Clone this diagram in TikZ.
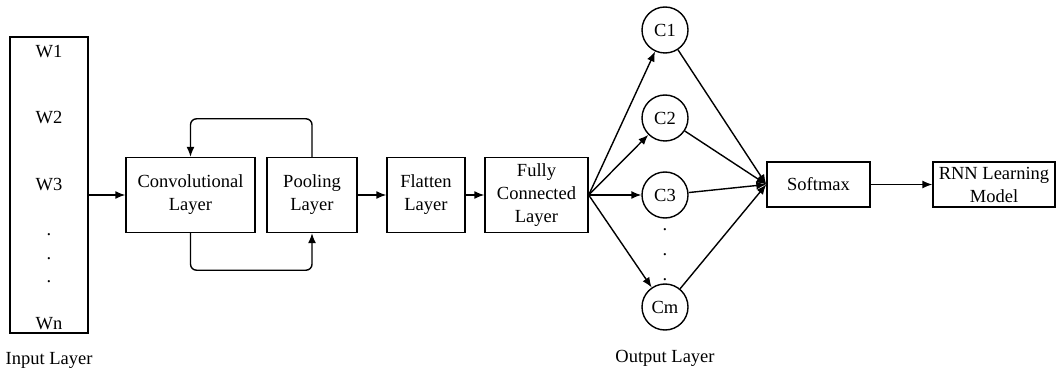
\documentclass[tikz,border=0pt]{standalone}
\usepackage{fontspec}
\setmainfont{Liberation Serif}
\usetikzlibrary{arrows.meta}

\begin{document}
\begin{tikzpicture}[
        x=1pt, y=-1pt,
        font=\fontsize{18.5}{23}\selectfont,
        line width=1.4pt,
        >={Latex[length=10pt,width=8pt]},
        layer/.style={
            draw,
            align=center,
            inner sep=0pt,
            minimum height=75pt
        },
        unit/.style={
            draw,
            circle,
            inner sep=0pt,
            minimum size=46pt
        },
        dot/.style={
            anchor=base,
            inner sep=0pt
        }
    ]
        \useasboundingbox (0,0) rectangle (1057,374);

        % Input column
        \node[draw, minimum width=78pt, minimum height=296pt] (in) at (49,185) {};
        \node (w1) at (49,52) {W1};
        \node (w2) at (49,118) {W2};
        \node (w3) at (49,185) {W3};
        \node[dot] (d1) at (49,236) {.};
        \node[dot] (d2) at (49,259) {.};
        \node[dot] (d3) at (49,282) {.};
        \node (wn) at (49,324) {Wn};
        \node (inlab) at (49,360) {Input Layer};

        % Convolution and pooling
        \node[layer, minimum width=129pt] (conv) at (190.5,195) {Convolutional\\Layer};
        \node[layer, minimum width=90pt] (pool) at (312,195) {Pooling\\Layer};

        % Flatten and dense
        \node[layer, minimum width=78pt] (flat) at (426,195) {Flatten\\Layer};
        \node[layer, minimum width=103pt] (fc) at (536.5,195) {Fully\\Connected\\Layer};

        % Output units
        \node[unit] (c1) at (665,30) {C1};
        \node[unit] (c2) at (665,118) {C2};
        \node[unit] (c3) at (665,195) {C3};
        \node[dot] (e1) at (665,230) {.};
        \node[dot] (e2) at (665,255) {.};
        \node[dot] (e3) at (665,280) {.};
        \node[unit] (cm) at (665,307) {Cm};
        \node (outlab) at (665,358) {Output Layer};

        % Softmax and RNN
        \node[draw, minimum width=103pt, minimum height=45pt] (sm) at (818.5,184.5) {Softmax};
        \node[draw, align=center, inner sep=0pt, minimum width=122pt, minimum height=45pt] (rnn) at (994,184.5) {RNN Learning\\Model};

        % Connectors
        \draw[->] (in.east |- conv.west) -- (conv.west);
        \draw[->, rounded corners=6pt] (pool.north) -- ++(0,-38) -| (conv.north);
        \draw[->, rounded corners=6pt] (conv.south) -- ++(0,37) -| (pool.south);
        \draw[->] (pool) -- (flat);
        \draw[->] (flat) -- (fc);
        \foreach \c in {c1,c2,c3,cm}{
            \draw[->] (fc.east) -- (\c);
            \draw[->] (\c) -- (sm.west);
        }
        \draw[->] (sm) -- (rnn);
    \end{tikzpicture}
\end{document}
